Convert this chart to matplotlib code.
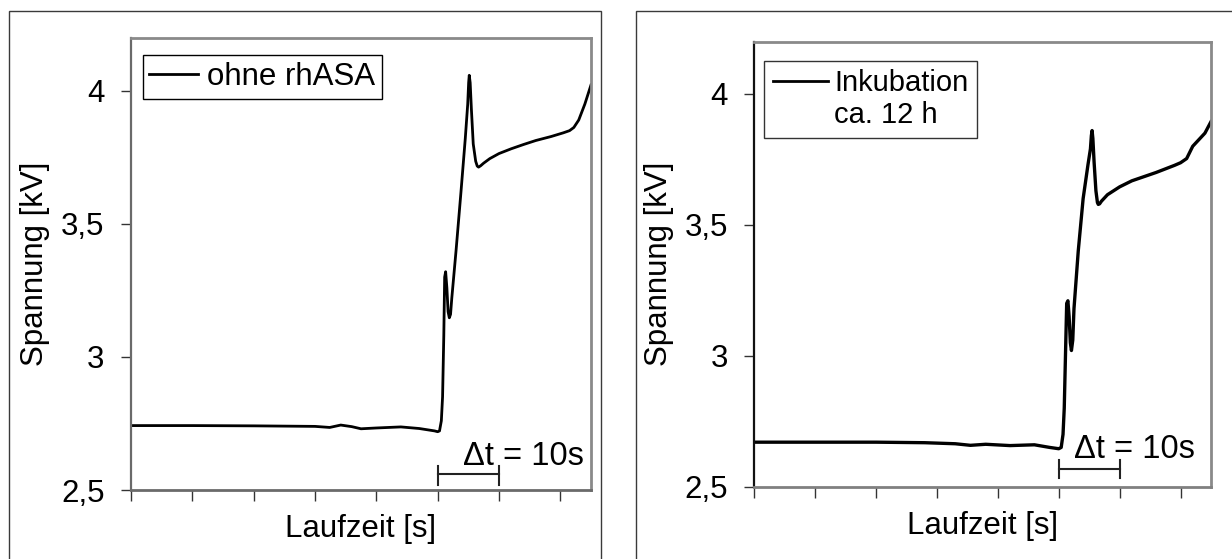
import matplotlib
matplotlib.use("Agg")
import matplotlib.pyplot as plt
from matplotlib.lines import Line2D
from matplotlib.patches import Rectangle

plt.rcParams['font.family'] = ['Liberation Sans', 'DejaVu Sans']
FS = 22.5

# ---------------- data (x in tick units of 10 s, y in kV) ----------------
x_left = [0.0, 1.0, 2.0, 3.0, 3.24, 3.42, 3.6, 3.75, 4.0, 4.4, 4.7, 4.95,
          5.0, 5.03, 5.06, 5.08, 5.10, 5.114, 5.13, 5.15, 5.17, 5.19, 5.21,
          5.23, 5.30, 5.38, 5.45, 5.49, 5.505, 5.515, 5.53, 5.55, 5.58, 5.62,
          5.645, 5.667, 5.70, 5.75, 5.85, 6.0, 6.2, 6.4,
          6.6, 6.85, 7.05, 7.15, 7.22, 7.3, 7.4, 7.5]
y_left = [2.742, 2.742, 2.741, 2.739, 2.735, 2.744, 2.738, 2.730, 2.733, 2.737, 2.731, 2.722,
          2.719, 2.722, 2.76, 2.85, 3.08, 3.30, 3.32, 3.26, 3.17, 3.147, 3.16,
          3.22, 3.40, 3.62, 3.82, 3.95, 4.03, 4.058, 4.03, 3.93, 3.80, 3.735,
          3.717, 3.713, 3.718, 3.728, 3.745, 3.764, 3.782, 3.798,
          3.813, 3.828, 3.842, 3.850, 3.862, 3.89, 3.95, 4.022]

x_right = [0.0, 1.0, 2.0, 2.8, 3.3, 3.55, 3.8, 4.2, 4.6, 4.85, 5.0, 5.04,
           5.07, 5.09, 5.11, 5.13, 5.15, 5.17, 5.19, 5.208, 5.23, 5.25, 5.32,
           5.40, 5.48, 5.52, 5.535, 5.547, 5.56, 5.58, 5.61, 5.635, 5.649,
           5.67, 5.70, 5.80, 6.0, 6.2, 6.6, 6.9, 7.0,
           7.1, 7.2, 7.3, 7.4, 7.5]
y_right = [2.670, 2.670, 2.670, 2.668, 2.664, 2.658, 2.662, 2.657, 2.660, 2.650, 2.645, 2.650,
           2.70, 2.80, 3.00, 3.20, 3.21, 3.15, 3.05, 3.02, 3.06, 3.18, 3.40,
           3.60, 3.73, 3.79, 3.84, 3.86, 3.83, 3.74, 3.63, 3.585, 3.578,
           3.580, 3.590, 3.615, 3.645, 3.668, 3.70, 3.727, 3.737,
           3.753, 3.80, 3.825, 3.850, 3.894]

labels = ["ohne rhASA", ["Inkubation", "ca. 12 h"]]
yticks = [2.5, 3.0, 3.5, 4.0]
ytick_labels = ["2,5", "3", "3,5", "4"]
xticks = [0, 1, 2, 3, 4, 5, 6, 7]
dt_label = "\u0394t = 10s"
dt_span = (5, 6)

W, H = 1232, 559
fig = plt.figure(figsize=(W / 100, H / 100), dpi=100)

# outer frames (chart areas)
fig.patches.append(Rectangle((9 / W, -0.05), (601 - 9) / W, 1.05 - 11 / H,
                             transform=fig.transFigure, fill=False,
                             edgecolor='#3a3a3a', lw=1.0))
fig.patches.append(Rectangle((636 / W, -0.05), 0.5, 1.05 - 11 / H,
                             transform=fig.transFigure, fill=False,
                             edgecolor='#3a3a3a', lw=1.0))

ax1 = fig.add_axes([131 / W, 1 - 490 / H, 460 / W, 452.5 / H])
ax2 = fig.add_axes([754.3 / W, 1 - 486.7 / H, 456.7 / W, 445.2 / H])


def style(ax, left_color, bottom_color, ylx):
    ax.set_xlim(0, 7.5)
    ax.set_ylim(2.5, 4.2)
    ax.set_yticks(yticks)
    ax.set_yticklabels(ytick_labels, fontsize=FS)
    ax.set_xticks(xticks)
    ax.set_xticklabels([])
    ax.tick_params(axis='y', direction='out', length=7, width=1, pad=12,
                   color='#333333')
    ax.tick_params(axis='x', direction='out', length=8, width=1,
                   color='#333333')
    for s in ('top', 'right'):
        ax.spines[s].set_color('#8a8a8a')
        ax.spines[s].set_linewidth(2.0)
    ax.spines['left'].set_color(left_color)
    ax.spines['left'].set_linewidth(1.6)
    ax.spines['bottom'].set_color(bottom_color)
    ax.spines['bottom'].set_linewidth(2.0)
    ax.set_ylabel("Spannung [kV]", fontsize=FS)
    ax.yaxis.set_label_coords(ylx, 0.5)
    ax.set_xlabel("Laufzeit [s]", fontsize=FS, labelpad=6)


style(ax1, '#6a6a6a', '#6a6a6a', -0.175)
style(ax2, '#111111', '#808080', -0.176)

# curves
l1, = ax1.plot(x_left, y_left, color='black', lw=2.0, label=labels[0])
l2, = ax2.plot(x_right, y_right, color='black', lw=2.4)

# legends
leg1 = ax1.legend(handles=[l1], loc='upper left', bbox_to_anchor=(0.025, 0.961),
                  borderaxespad=0, fontsize=FS, frameon=True, fancybox=False,
                  edgecolor='black', framealpha=1, borderpad=0.22,
                  handlelength=1.55, handletextpad=0.3)
leg1.get_frame().set_linewidth(1.0)

h_extra = Line2D([], [], color='none')
leg2 = ax2.legend(handles=[Line2D([], [], color='black', lw=2.0), h_extra],
                  labels=labels[1], loc='upper left',
                  bbox_to_anchor=(0.021, 0.957), borderaxespad=0, fontsize=21,
                  frameon=True, fancybox=False, edgecolor='#333333',
                  framealpha=1, borderpad=0.3, labelspacing=0.12,
                  handlelength=1.9, handletextpad=0.2)
leg2.get_frame().set_linewidth(1.0)


def dt_bar(ax, ybar, ylo, yhi, xtext, ytext):
    ax.plot(dt_span, [ybar, ybar], color='#222222', lw=1.5)
    for xv in dt_span:
        ax.plot([xv, xv], [ylo, yhi], color='#222222', lw=1.5)
    ax.text(xtext, ytext, dt_label, fontsize=FS + 1, ha='left', va='center')


dt_bar(ax1, 2.560, 2.519, 2.590, 5.41, 2.626)
dt_bar(ax2, 2.568, 2.534, 2.603, 5.25, 2.642)

fig.savefig("out.png", dpi=100)
